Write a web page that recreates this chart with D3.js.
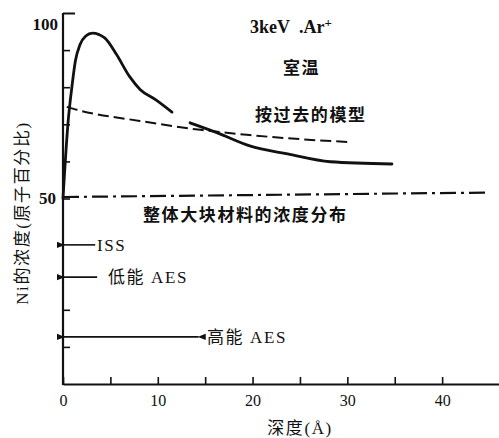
<!DOCTYPE html>
<meta charset="utf-8">
<head>
<script src="https://cdn.jsdelivr.net/npm/d3@7"></script>
</head>
<style>
    body { margin: 0; background: #fff; }
    svg { font-family: "Liberation Serif", "Noto Sans CJK SC", serif; }
    .axis path, .axis line { stroke: #111; }
    .axis text { font-family: "Liberation Serif", serif; fill: #111; }
    .note { fill: #111; font-size: 17px; letter-spacing: 1.6px; }
    .bold { font-weight: bold; }
    .latin { fill: #111; font-size: 18px; font-weight: bold; }
</style>
<svg width="499" height="438"></svg>
<script>
    // Ni 浓度 (原子%) 随深度 (Å) 的变化, 3keV Ar+ 室温
    var solidNear = [[0, 50], [0.53, 70.4], [0.95, 80.3], [1.3, 87], [1.8, 91.5], [2.4, 93.8],
        [3.1, 94.6], [4.4, 93.3], [5.6, 89], [7.07, 82.7], [8.13, 79.4], [9.8, 76.6], [11.5, 73.3]];
    var solidFar = [[13.4, 70.4], [16.3, 67.7], [19.7, 64.2], [23.7, 62.0], [28.2, 59.9], [34.7, 59.3]];
    var oldModel = [[0.4, 74.7], [1.48, 73.9], [8.1, 70.9], [14.5, 68.5], [19.7, 67.1], [25, 66], [30.3, 65.2]];
    var bulk = [[0, 50.4], [45, 51.6]];

    // 分析深度 (Å) 和画在的纵坐标
    var probeNames = ['ISS', '低能 AES', '高能 AES'];
    var probeDepth = [3.4, 3.6, 14.3];
    var probeLevel = [37.5, 28.8, 12.7];

    var xTicks = [0, 5, 10, 15, 20, 25, 30, 35, 40];
    var xLabels = [0, 10, 20, 30, 40];
    var yTicks = [10, 20, 50, 60, 70, 80, 90, 100];
    var yLabels = [50, 100];

    var svg = d3.select('svg');
    var x = d3.scaleLinear().domain([0, 46]).range([63, 499]);
    var y = d3.scaleLinear().domain([0, 100]).range([384, 13]);

    // axes
    var gx = svg.append('g').attr('class', 'axis').attr('transform', 'translate(0,' + y(0) + ')')
        .call(d3.axisBottom(x).tickValues(xTicks).tickSize(-7).tickSizeOuter(0).tickPadding(11)
            .tickFormat(function (d) { return xLabels.indexOf(d) >= 0 ? d : ''; }));
    gx.select('.domain').attr('stroke-width', 2);
    gx.selectAll('line').attr('stroke-width', 1.6);
    gx.selectAll('text').attr('font-size', 16);

    var gy = svg.append('g').attr('class', 'axis').attr('transform', 'translate(' + x(0) + ',0)')
        .call(d3.axisLeft(y).tickValues(yTicks).tickSize(-7).tickSizeOuter(0).tickPadding(7)
            .tickFormat(function (d) { return yLabels.indexOf(d) >= 0 ? d : ''; }));
    gy.select('.domain').attr('stroke-width', 2.2).attr('d', 'M0,' + (y(0) + 1) + 'V' + y(100));
    gy.selectAll('line').attr('stroke-width', 1.6)
        .filter(function (d) { return d === 100; }).attr('x2', 12).attr('stroke-width', 2);
    gy.selectAll('text').attr('font-size', 17).attr('font-weight', 'bold')
        .filter(function (d) { return d === 100; }).attr('dy', '0.95em').attr('x', -5);

    var line = d3.line().x(function (d) { return x(d[0]); }).y(function (d) { return y(d[1]); })
        .curve(d3.curveMonotoneX);

    svg.append('path').datum(bulk).attr('d', line).attr('fill', 'none').attr('stroke', '#111')
        .attr('stroke-width', 2.2).attr('stroke-dasharray', '16,5,3,5');
    svg.append('path').datum(oldModel).attr('d', line).attr('fill', 'none').attr('stroke', '#111')
        .attr('stroke-width', 2).attr('stroke-dasharray', '11,5');
    [solidNear, solidFar].forEach(function (s) {
        svg.append('path').datum(s).attr('d', line).attr('fill', 'none').attr('stroke', '#111')
            .attr('stroke-width', 2.8).attr('stroke-linecap', 'round');
    });

    // probe arrows
    var defs = svg.append('defs');
    defs.append('marker').attr('id', 'ah').attr('viewBox', '0 0 10 10').attr('refX', 1).attr('refY', 5)
        .attr('markerWidth', 5).attr('markerHeight', 5).attr('orient', 'auto-start-reverse')
        .append('path').attr('d', 'M10,1L0,5L10,9Z').attr('fill', '#111');
    probeDepth.forEach(function (dp, i) {
        var l = svg.append('line').attr('x1', x(0) + 1).attr('x2', x(dp))
            .attr('y1', y(probeLevel[i])).attr('y2', y(probeLevel[i]))
            .attr('stroke', '#111').attr('stroke-width', 1.6).attr('marker-start', 'url(#ah)');
        if (i === 2) l.attr('marker-end', 'url(#ah)');
    });
    var probeTextX = [97, 108, 207];
    probeNames.forEach(function (n, i) {
        svg.append('text').attr('class', 'note').attr('x', probeTextX[i]).attr('y', y(probeLevel[i]) + 6)
            .attr('letter-spacing', i === 0 ? 0 : 1).text(n);
    });

    // annotations
    var t = svg.append('text').attr('class', 'latin').attr('y', 33);
    t.append('tspan').attr('x', 250).text('3keV');
    t.append('tspan').attr('x', 299).text('.Ar');
    t.append('tspan').attr('font-size', 13).attr('dy', -6).text('+');
    svg.append('text').attr('class', 'note bold').attr('x', 283).attr('y', 74).text('室温');
    svg.append('text').attr('class', 'note bold').attr('x', 255).attr('y', 121).text('按过去的模型');
    svg.append('text').attr('class', 'note bold').attr('x', 143).attr('y', 221).text('整体大块材料的浓度分布');

    svg.append('text').attr('class', 'note').attr('text-anchor', 'middle').attr('x', 300).attr('y', 434)
        .text('深度(Å)');
    svg.append('text').attr('class', 'note').attr('text-anchor', 'middle')
        .attr('transform', 'translate(22,213) rotate(-90)').attr('dy', '0.36em').text('Ni的浓度(原子百分比)');
</script>
